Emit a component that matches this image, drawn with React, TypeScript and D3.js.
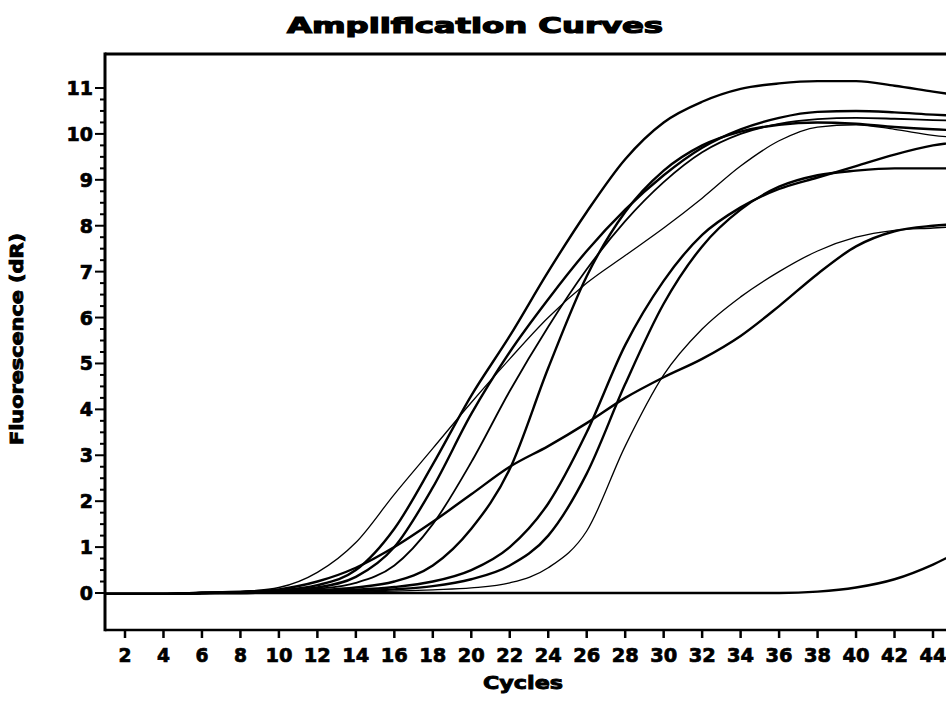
import React from "react";
import * as d3 from "d3";

const cycles = [1, 4, 6, 8, 10, 12, 14, 16, 18, 20, 22, 24, 26, 28, 30, 32, 34, 36, 38, 40, 42, 44, 46];

const wellT1 = [-0.02, -0.02, 0.0, 0.03, 0.12, 0.45, 1.1, 2.15, 3.15, 4.15, 5.1, 6.0, 6.75, 7.35, 7.95, 8.6, 9.3, 9.85, 10.15, 10.2, 10.1, 9.97, 9.9];
const wellA = [-0.02, -0.02, 0.0, 0.03, 0.06, 0.17, 0.5, 1.4, 2.8, 4.3, 5.6, 7.0, 8.3, 9.45, 10.25, 10.7, 10.98, 11.1, 11.15, 11.15, 11.05, 10.92, 10.8];
const wellB = [-0.02, -0.02, 0.0, 0.02, 0.05, 0.12, 0.35, 1.0, 2.3, 3.9, 5.25, 6.4, 7.45, 8.35, 9.1, 9.7, 10.1, 10.35, 10.48, 10.5, 10.47, 10.42, 10.38];
const wellB2 = [-0.02, -0.02, 0.0, 0.02, 0.04, 0.09, 0.22, 0.6, 1.5, 2.85, 4.4, 5.8, 7.05, 8.1, 8.95, 9.6, 10.0, 10.22, 10.32, 10.35, 10.33, 10.3, 10.28];
const wellC = [-0.02, -0.02, 0.0, 0.01, 0.03, 0.06, 0.12, 0.25, 0.6, 1.4, 2.7, 4.9, 6.9, 8.3, 9.2, 9.75, 10.05, 10.2, 10.25, 10.22, 10.15, 10.1, 10.07];
const wellD = [-0.02, -0.02, 0.0, 0.0, 0.02, 0.04, 0.07, 0.13, 0.25, 0.5, 1.0, 1.95, 3.5, 5.4, 6.8, 7.8, 8.4, 8.8, 9.05, 9.3, 9.55, 9.75, 9.85];
const wellF = [-0.02, -0.02, 0.0, 0.0, 0.01, 0.02, 0.04, 0.08, 0.15, 0.3, 0.6, 1.25, 2.6, 4.55, 6.3, 7.55, 8.35, 8.85, 9.1, 9.2, 9.25, 9.25, 9.25];
const wellT2 = [-0.02, -0.02, 0.0, 0.0, 0.0, 0.01, 0.02, 0.04, 0.07, 0.11, 0.22, 0.55, 1.35, 3.2, 4.75, 5.75, 6.45, 7.0, 7.45, 7.75, 7.9, 7.95, 8.0];
const wellL = [-0.02, -0.02, 0.0, 0.02, 0.08, 0.25, 0.55, 1.0, 1.55, 2.15, 2.75, 3.2, 3.7, 4.25, 4.7, 5.1, 5.6, 6.25, 6.95, 7.55, 7.88, 8.0, 8.05];
const wellNTC = [-0.02, -0.02, 0.0, 0.0, 0.0, 0.0, 0.0, 0.0, 0.0, 0.0, 0.0, 0.0, 0.0, 0.0, 0.0, 0.0, 0.0, 0.0, 0.03, 0.12, 0.3, 0.62, 1.05];

const seriesNames = ["A", "B", "B2", "C", "D", "F", "L", "NTC", "T1", "T2"];
const seriesValues = [wellA, wellB, wellB2, wellC, wellD, wellF, wellL, wellNTC, wellT1, wellT2];
const thinSeries = ["T1", "T2"];
const mediumSeries = ["B2"];

const xTicks = [2, 4, 6, 8, 10, 12, 14, 16, 18, 20, 22, 24, 26, 28, 30, 32, 34, 36, 38, 40, 42, 44];
const yTicks = [0, 1, 2, 3, 4, 5, 6, 7, 8, 9, 10, 11];

const titleText = "Amplification Curves";
const xLabel = "Cycles";
const yLabel = "Fluorescence (dR)";

const W = 946;
const H = 703;
const FONT = "'DejaVu Sans', sans-serif";

export default function App() {
  const x = d3.scaleLinear().domain([2, 44]).range([125, 933]);
  const y = d3.scaleLinear().domain([0, 11]).range([593, 88]);
  const left = 105;
  const top = 54;
  const bottom = 630;
  const right = W + 20;

  const line = d3
    .line<number>()
    .x((_, i) => x(cycles[i]))
    .y((d) => y(d))
    .curve(d3.curveMonotoneX);

  const minor: number[] = [];
  for (let v = 0; v < 11; v += 0.25) {
    if (Math.abs(v - Math.round(v)) > 0.01) minor.push(v);
  }

  const widthOf = (n: string) =>
    thinSeries.includes(n) ? 1.3 : mediumSeries.includes(n) ? 1.8 : 2.4;

  return (
    <svg
      width={W}
      height={H}
      style={{ position: "absolute", left: 0, top: 0, background: "#fff" }}
    >
      <rect x={0} y={0} width={W} height={H} fill="#fff" />
      <text
        x={475}
        y={33}
        textAnchor="middle"
        fontFamily={FONT}
        fontWeight="bold"
        fontSize={21}
        textLength={376}
        lengthAdjust="spacingAndGlyphs"
        fill="#000"
        stroke="#000"
        strokeWidth={1.2}
      >
        {titleText}
      </text>

      <defs>
        <clipPath id="plotclip">
          <rect x={left + 1} y={top + 1} width={right - left} height={bottom - top - 2} />
        </clipPath>
      </defs>

      <g clipPath="url(#plotclip)">
        {seriesValues.map((vals, i) => (
          <path
            key={seriesNames[i]}
            d={line(vals) || ""}
            fill="none"
            stroke="#000"
            strokeWidth={widthOf(seriesNames[i])}
          />
        ))}
      </g>

      {/* frame */}
      <line x1={left} x2={right} y1={top} y2={top} stroke="#000" strokeWidth={3} />
      <line x1={left} x2={right} y1={bottom} y2={bottom} stroke="#000" strokeWidth={2.5} />
      <line x1={left} x2={left} y1={top - 1.5} y2={bottom + 1.2} stroke="#000" strokeWidth={3} />

      {/* y ticks */}
      {yTicks.map((t) => (
        <g key={"y" + t}>
          <line x1={left - 10} x2={left} y1={y(t)} y2={y(t)} stroke="#000" strokeWidth={2} />
          <text
            x={93}
            y={y(t) + 7}
            textAnchor="end"
            fontFamily={FONT}
            fontWeight="bold"
            fontSize={19}
            fill="#000"
            stroke="#000"
            strokeWidth={0.7}
          >
            {t}
          </text>
        </g>
      ))}
      {minor.map((v) => (
        <line key={"m" + v} x1={left - 5} x2={left} y1={y(v)} y2={y(v)} stroke="#000" strokeWidth={2} />
      ))}

      {/* x ticks */}
      {xTicks.map((t) => (
        <g key={"x" + t}>
          <line x1={x(t)} x2={x(t)} y1={bottom} y2={bottom + 8} stroke="#000" strokeWidth={2.5} />
          <text
            x={x(t)}
            y={662}
            textAnchor="middle"
            fontFamily={FONT}
            fontWeight="bold"
            fontSize={19}
            textLength={t >= 10 ? 27 : 13}
            lengthAdjust="spacingAndGlyphs"
            fill="#000"
            stroke="#000"
            strokeWidth={0.7}
          >
            {t}
          </text>
        </g>
      ))}

      <text
        x={523}
        y={689}
        textAnchor="middle"
        fontFamily={FONT}
        fontWeight="bold"
        fontSize={18}
        textLength={80}
        lengthAdjust="spacingAndGlyphs"
        fill="#000"
        stroke="#000"
        strokeWidth={0.9}
      >
        {xLabel}
      </text>

      <text
        transform={`translate(23, 339) rotate(-90)`}
        textAnchor="middle"
        fontFamily={FONT}
        fontWeight="bold"
        fontSize={17}
        textLength={212}
        lengthAdjust="spacingAndGlyphs"
        fill="#000"
        stroke="#000"
        strokeWidth={0.9}
      >
        {yLabel}
      </text>
    </svg>
  );
}
